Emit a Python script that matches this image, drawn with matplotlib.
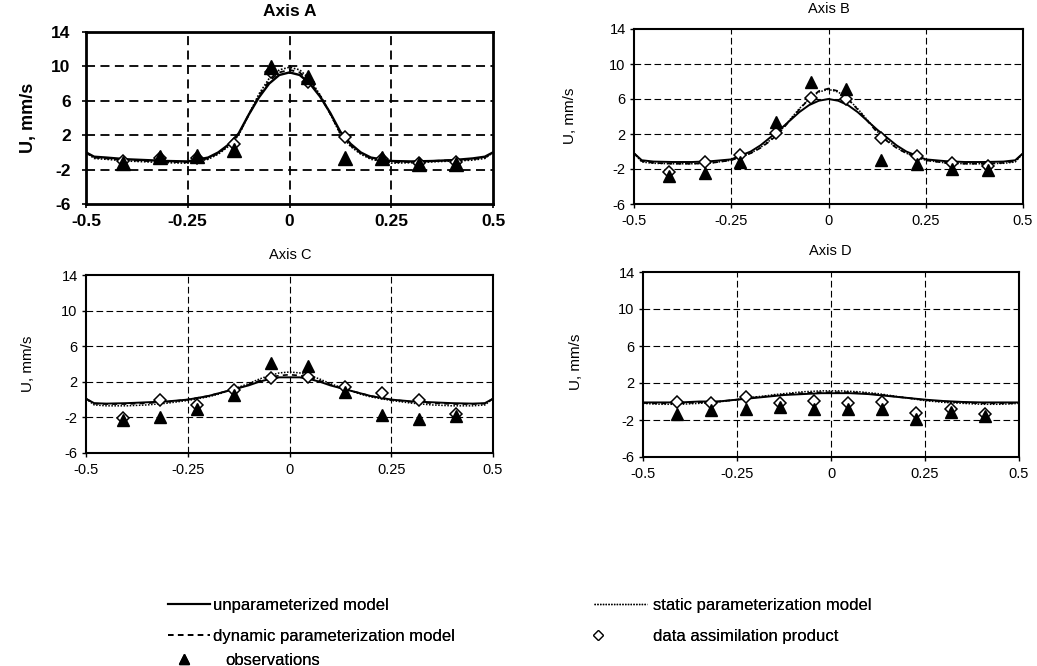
import matplotlib
matplotlib.use("Agg")
import matplotlib.pyplot as plt
from matplotlib import font_manager
from matplotlib.lines import Line2D

# ---------------- data ----------------
xm = [-0.5, -0.48, -0.45, -0.4, -0.35, -0.3, -0.25, -0.2, -0.175, -0.15, -0.125, -0.1, -0.075, -0.05, -0.025,
      0.0, 0.025, 0.05, 0.075, 0.1, 0.125, 0.15, 0.175, 0.2, 0.25, 0.3, 0.35, 0.4, 0.45, 0.48, 0.5]

A_solid = [0.0, -0.5, -0.6, -0.8, -0.9, -1.0, -1.05, -0.6, 0.0, 0.9, 2.2, 4.4, 6.4, 8.0, 9.0, 9.3,
           9.0, 8.0, 6.5, 4.6, 2.4, 1.0, 0.0, -0.6, -1.0, -1.05, -1.0, -0.9, -0.7, -0.5, 0.0]
A_dashed = [0.0, -0.6, -0.7, -0.9, -1.0, -1.1, -1.15, -0.7, -0.1, 0.8, 2.1, 4.4, 6.6, 8.3, 9.3, 9.6,
            9.3, 8.2, 6.6, 4.5, 2.2, 0.8, -0.1, -0.7, -1.15, -1.1, -1.0, -0.9, -0.8, -0.6, 0.0]
A_dotted = [0.0, -0.7, -0.8, -1.0, -1.1, -1.2, -1.25, -0.8, -0.2, 0.7, 2.0, 4.4, 6.8, 8.6, 9.6, 9.9,
            9.6, 8.5, 6.7, 4.5, 2.1, 0.7, -0.2, -0.8, -1.25, -1.2, -1.1, -1.0, -0.9, -0.7, 0.0]

B_solid = [-0.2, -1.0, -1.15, -1.2, -1.2, -1.1, -0.9, 0.0, 0.7, 1.6, 2.5, 3.5, 4.5, 5.3, 5.8, 6.0,
           5.8, 5.3, 4.5, 3.5, 2.5, 1.6, 0.7, 0.0, -0.9, -1.1, -1.2, -1.2, -1.15, -1.0, -0.2]
B_dashed = [-0.2, -1.1, -1.3, -1.4, -1.4, -1.3, -1.0, -0.2, 0.4, 1.2, 2.2, 3.5, 4.8, 6.0, 6.9, 7.2,
            6.9, 6.0, 4.8, 3.5, 2.2, 1.2, 0.4, -0.2, -1.0, -1.3, -1.4, -1.4, -1.3, -1.1, -0.2]
B_dotted = [-0.2, -1.2, -1.35, -1.4, -1.4, -1.3, -1.0, -0.2, 0.45, 1.3, 2.3, 3.6, 4.9, 6.0, 6.8, 7.1,
            6.8, 6.0, 4.9, 3.6, 2.3, 1.3, 0.45, -0.2, -1.0, -1.3, -1.4, -1.4, -1.35, -1.2, -0.2]

C_solid = [0.1, -0.4, -0.45, -0.4, -0.3, -0.2, 0.0, 0.4, 0.7, 1.0, 1.3, 1.6, 2.0, 2.3, 2.5, 2.5,
           2.5, 2.3, 2.0, 1.6, 1.3, 1.0, 0.7, 0.4, 0.0, -0.2, -0.3, -0.4, -0.45, -0.4, 0.1]
C_dashed = [0.1, -0.45, -0.5, -0.5, -0.4, -0.25, 0.0, 0.4, 0.7, 1.0, 1.3, 1.7, 2.1, 2.5, 2.7, 2.8,
            2.7, 2.5, 2.1, 1.7, 1.3, 1.0, 0.7, 0.4, 0.0, -0.25, -0.4, -0.5, -0.5, -0.45, 0.1]
C_dotted = [0.1, -0.6, -0.7, -0.7, -0.6, -0.4, -0.1, 0.3, 0.6, 1.0, 1.4, 1.8, 2.3, 2.7, 3.0, 3.1,
            3.0, 2.7, 2.3, 1.8, 1.4, 1.0, 0.6, 0.3, -0.1, -0.4, -0.6, -0.7, -0.7, -0.6, 0.1]

D_solid = [-0.1, -0.1, -0.1, -0.1, 0.0, 0.0, 0.2, 0.4, 0.5, 0.6, 0.7, 0.75, 0.8, 0.85, 0.9, 0.9,
           0.9, 0.9, 0.85, 0.8, 0.7, 0.6, 0.5, 0.4, 0.2, 0.05, -0.05, -0.1, -0.1, -0.1, -0.1]
D_dashed = [-0.15, -0.2, -0.2, -0.2, -0.1, 0.0, 0.2, 0.45, 0.55, 0.65, 0.75, 0.85, 0.9, 0.95, 1.0, 1.0,
            1.0, 1.0, 0.95, 0.85, 0.75, 0.65, 0.5, 0.4, 0.15, 0.0, -0.1, -0.2, -0.2, -0.2, -0.15]
D_dotted = [-0.2, -0.25, -0.3, -0.3, -0.2, -0.05, 0.2, 0.5, 0.6, 0.75, 0.85, 0.95, 1.05, 1.1, 1.15, 1.15,
            1.15, 1.1, 1.05, 0.95, 0.85, 0.7, 0.55, 0.4, 0.1, -0.1, -0.2, -0.3, -0.3, -0.25, -0.2]

obs_x = [-0.409, -0.318, -0.227, -0.136, -0.045, 0.045, 0.136, 0.227, 0.318, 0.409]
A_obs = [-1.2, -0.5, -0.4, 0.3, 9.9, 8.8, -0.6, -0.7, -1.4, -1.4]
A_da = [-1.0, -0.7, -0.6, 1.0, 9.4, 8.2, 1.8, -0.8, -1.2, -1.1]
B_obs = [-2.8, -2.5, -1.2, 3.4, 7.9, 7.1, -1.0, -1.45, -2.0, -2.1]
B_da = [-2.3, -1.15, -0.4, 2.1, 6.1, 6.0, 1.5, -0.5, -1.27, -1.7]
C_obs = [-2.3, -1.9, -1.0, 0.5, 4.1, 3.75, 0.8, -1.75, -2.2, -1.8]
C_da = [-2.1, 0.0, -0.6, 1.1, 2.4, 2.5, 1.4, 0.7, 0.0, -1.65]
D_obs = [-1.3, -0.95, -0.8, -0.6, -0.8, -0.8, -0.8, -1.85, -1.1, -1.55]
D_da = [-0.05, -0.15, 0.5, -0.2, 0.05, -0.15, -0.05, -1.25, -0.8, -1.4]

xticks = [-0.5, -0.25, 0, 0.25, 0.5]
xticklabels = ["-0.5", "-0.25", "0", "0.25", "0.5"]
yticks = [-6, -2, 2, 6, 10, 14]
yticklabels = ["-6", "-2", "2", "6", "10", "14"]
titles = ["Axis A", "Axis B", "Axis C", "Axis D"]
ylabel = "U, mm/s"
legend_labels = ["unparameterized model", "dynamic parameterization model", "observations",
                 "static parameterization model", "data assimilation product"]

# ---------------- style ----------------
FONT = "Liberation Sans"
avail = {f.name for f in font_manager.fontManager.ttflist}
NARROW = "Liberation Sans Narrow" if "Liberation Sans Narrow" in avail else FONT
plt.rcParams["font.family"] = [FONT, "DejaVu Sans"]

W, H = 1037, 666
fig = plt.figure(figsize=(W / 100, H / 100), dpi=100)


def box(l, t, r, b):
    return [l / W, 1 - b / H, (r - l) / W, (b - t) / H]


panels = [
    dict(rect=box(86, 32, 493, 204), solid=A_solid, dashed=A_dashed, dotted=A_dotted, obs=A_obs, da=A_da,
         bold=True, title_xy=(290, 12), ylab_xy=(28, 118)),
    dict(rect=box(634, 29, 1023, 204), solid=B_solid, dashed=B_dashed, dotted=B_dotted, obs=B_obs, da=B_da,
         bold=False, title_xy=(829, 9), ylab_xy=(570, 116)),
    dict(rect=box(86, 275, 493, 453), solid=C_solid, dashed=C_dashed, dotted=C_dotted, obs=C_obs, da=C_da,
         bold=False, title_xy=(290, 255), ylab_xy=(28, 364)),
    dict(rect=box(643, 272, 1019, 457), solid=D_solid, dashed=D_dashed, dotted=D_dotted, obs=D_obs, da=D_da,
         bold=False, title_xy=(830, 251), ylab_xy=(576, 362)),
]

for p, title in zip(panels, titles):
    ax = fig.add_axes(p["rect"])
    bold = p["bold"]
    fw = "bold" if bold else "normal"
    fs = 12.5 if bold else 10.5
    ax.set_xlim(-0.5, 0.5)
    ax.set_ylim(-6, 14)
    ax.set_xticks(xticks)
    ax.set_xticklabels(xticklabels, fontsize=fs, fontweight=fw)
    ax.set_yticks(yticks)
    ax.set_yticklabels(yticklabels, fontsize=fs, fontweight=fw)
    ax.tick_params(direction="out", length=3, width=1.2 if bold else 1.0, colors="black")
    ax.tick_params(axis="y", pad=8 if bold else 3)
    ax.tick_params(axis="x", pad=4)
    for s in ax.spines.values():
        s.set_linewidth(2.0 if bold else 1.5)
        s.set_color("black")
    # dashed grid
    gls = (0, (5, 3)) if bold else (0, (6, 3))
    glw = 1.3 if bold else 0.8
    for gx in [-0.25, 0, 0.25]:
        ax.axvline(gx, color="black", lw=glw, ls=gls, zorder=1)
    for gy in [-2, 2, 6, 10]:
        ax.axhline(gy, color="black", lw=glw, ls=gls, zorder=1)
    # model curves
    lw = 1.7 if bold else 1.4
    ax.plot(xm, p["dotted"], color="black", lw=1.2 if bold else 1.1, ls=(0, (1, 1)), zorder=3)
    ax.plot(xm, p["dashed"], color="black", lw=1.3 if bold else 1.2, ls=(0, (3, 2.5)), zorder=3)
    ax.plot(xm, p["solid"], color="black", lw=lw, ls="-", zorder=4)
    # points
    ax.plot(obs_x, p["da"], ls="none", marker="D", ms=6, mfc="white", mec="black", mew=1.1, zorder=5)
    ax.plot(obs_x, p["obs"], ls="none", marker="^", ms=9.5 if bold else 9, mfc="black", mec="black", zorder=6)
    fig.text(p["title_xy"][0] / W, 1 - p["title_xy"][1] / H, title, ha="center", va="center",
             fontsize=fs, fontweight=fw)
    fig.text(p["ylab_xy"][0] / W, 1 - p["ylab_xy"][1] / H, ylabel, ha="center", va="center",
             rotation=90, fontsize=fs + 0.5, fontweight=fw)

# ---------------- legend (one legend per row, for exact placement) ----------------
h_solid = Line2D([], [], color="black", lw=1.5, ls="-")
h_dash = Line2D([], [], color="black", lw=1.3, ls=(0, (3, 2.5)))
h_obs = Line2D([], [], color="black", ls="none", marker="^", ms=7)
h_dot = Line2D([], [], color="black", lw=1.0, ls=(0, (1, 1)))
h_da = Line2D([], [], color="black", ls="none", marker="D", ms=5, mfc="white", mew=0.9)

legprops = dict(family=[NARROW, "DejaVu Sans"], size=12)
FS_PX = 12 * 100 / 72.0

rows = [
    # handle, label, left px, top px, handlelength(em), text start px
    (h_solid, legend_labels[0], 168, 598, 2.5, 213),
    (h_dash, legend_labels[1], 168, 629, 2.5, 213),
    (h_obs, legend_labels[2], 167, 653, 2.0, 225),
    (h_dot, legend_labels[3], 594, 598, 3.2, 653),
    (h_da, legend_labels[4], 585, 629, 1.6, 653),
]
for h, lab, lx, ty, hl, tx in rows:
    pad = (tx - lx) / FS_PX - hl
    lg = fig.legend([h], [lab], loc="upper left", bbox_to_anchor=(lx / W, 1 - ty / H), frameon=False,
                    prop=legprops, handlelength=hl, handletextpad=pad, borderpad=0, borderaxespad=0)
    fig.add_artist(lg)

fig.savefig("out.png", dpi=100)
